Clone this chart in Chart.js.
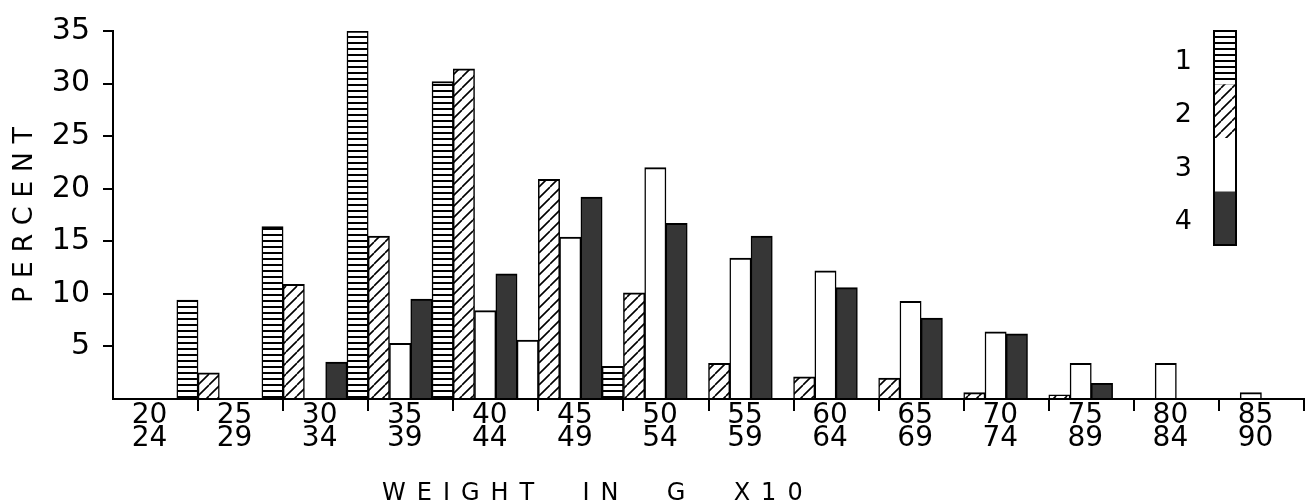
<!DOCTYPE html>
<html>
<head>
<meta charset="utf-8">
<title>Weight classes</title>
<script src="https://cdn.jsdelivr.net/npm/chart.js@4.4.1/dist/chart.umd.min.js"></script>
<style>
  html, body { margin: 0; padding: 0; background: #fff; }
  #wrap { width: 1316px; height: 504px; position: relative; }
</style>
</head>
<body>
<div id="wrap"><canvas id="weightChart"></canvas></div>
<script>
// weight classes (g x10): lower / upper bound, printed on two lines
const binLow  = ['20', '25', '30', '35', '40', '45', '50', '55', '60', '65', '70', '75', '80', '85'];
const binHigh = ['24', '29', '34', '39', '44', '49', '54', '59', '64', '69', '74', '89', '84', '90'];

// percent in each class
const series1 = [0, 9.4, 16.4, 35, 30.2, 5.6, 3.1, 0, 0, 0, 0, 0, 0, 0];
const series2 = [0, 2.5, 10.9, 15.5, 31.4, 20.9, 10.1, 3.4, 2.1, 2.0, 0.6, 0.4, 0, 0];
const series3 = [0, 0, 0, 5.3, 8.4, 15.4, 22.0, 13.4, 12.2, 9.3, 6.4, 3.4, 3.4, 0.6];
const series4 = [0, 0, 3.5, 9.5, 11.9, 19.2, 16.7, 15.5, 10.6, 7.7, 6.2, 1.5, 0, 0];
const seriesNames = ['1', '2', '3', '4'];

// in the original the series-1 bar of 45-49 is left unshaded
const unshaded1 = [5];

const yMax = 35;
const yStep = 5;
const xTitle = 'WEIGHT  IN  G  X10';
const yTitle = 'P E R C E N T';

Chart.defaults.font.family = '"DejaVu Sans", sans-serif';
Chart.defaults.color = '#000';

function makePattern(kind) {
  const c = document.createElement('canvas');
  const g = c.getContext('2d');
  if (kind === 'stripes') {
    c.width = 8; c.height = 6;
    g.fillStyle = '#fff'; g.fillRect(0, 0, 8, 6);
    g.fillStyle = '#000'; g.fillRect(0, 0, 8, 2);
  } else {
    const s = 11;
    c.width = s; c.height = s;
    g.fillStyle = '#fff'; g.fillRect(0, 0, s, s);
    g.strokeStyle = '#000'; g.lineWidth = 1.6;
    g.beginPath();
    for (let k = -s; k <= s; k += s) {
      g.moveTo(k, s); g.lineTo(k + s, 0);
    }
    g.stroke();
  }
  return g.createPattern(c, 'repeat');
}

const fills = [makePattern('stripes'), makePattern('hatch'), '#ffffff', '#363636'];
const seriesValues = [series1, series2, series3, series4];

// each group of 4 bars starts one bar-width left of its class tick, like the drawing
const datasets = seriesValues.map((vals, s) => ({
  label: seriesNames[s],
  data: vals.map((v, i) => ({ x: i + 0.25, y: v })),
  backgroundColor: vals.map((v, i) => (s === 0 && unshaded1.includes(i)) ? '#ffffff' : fills[s]),
  borderColor: '#000',
  borderWidth: { top: 2, left: 1.5, right: 1.5, bottom: 0 },
  xAxisID: 'xb',
  yAxisID: 'y'
}));

// stacked key at the upper right + x axis title with wide lettering
const keyAndTitle = {
  id: 'keyAndTitle',
  afterDraw(chart) {
    const { ctx, chartArea } = chart;
    const w = 22, h = 53.5;
    const x0 = chartArea.right - 90;
    const top = chartArea.top;
    ctx.save();
    ctx.font = '27px "DejaVu Sans"';
    ctx.textAlign = 'right';
    ctx.textBaseline = 'middle';
    chart.data.datasets.forEach((ds, i) => {
      const y = top + i * h;
      ctx.fillStyle = fills[i];
      ctx.fillRect(x0, y, w, h);
      ctx.fillStyle = '#000';
      ctx.fillText(ds.label, x0 - 22, y + h / 2 + 4);
    });
    ctx.lineWidth = 2;
    ctx.strokeStyle = '#000';
    ctx.strokeRect(x0, top, w, h * seriesNames.length);

    ctx.font = '24px "DejaVu Sans"';
    ctx.letterSpacing = '11px';
    ctx.textAlign = 'left';
    ctx.textBaseline = 'alphabetic';
    ctx.fillText(xTitle, 382, 500);
    ctx.restore();
  }
};

new Chart(document.getElementById('weightChart'), {
  type: 'bar',
  data: {
    labels: binLow.map((lo, i) => [lo, binHigh[i]]),
    datasets: datasets
  },
  options: {
    responsive: true,
    maintainAspectRatio: false,
    animation: false,
    devicePixelRatio: 1,
    layout: { padding: { top: 24, right: 12, left: 0, bottom: 0 } },
    datasets: { bar: { categoryPercentage: 1, barPercentage: 1 } },
    plugins: {
      legend: { display: false },
      tooltip: { enabled: false }
    },
    scales: {
      x: {
        type: 'category',
        position: 'bottom',
        offset: true,
        grid: {
          offset: true,
          drawOnChartArea: false,
          drawTicks: true,
          tickLength: 12,
          lineWidth: 2,
          color: (c) => c.index === 0 ? 'rgba(0,0,0,0)' : '#000'
        },
        border: { display: true, color: '#000', width: 2 },
        ticks: {
          color: '#000',
          font: { size: 28, lineHeight: 0.8 },
          padding: -6,
          labelOffset: -6,
          maxRotation: 0,
          autoSkip: false
        },
        afterFit: (s) => { s.height = 105; }
      },
      xb: {
        type: 'linear',
        position: 'bottom',
        display: false,
        offset: false,
        min: 0,
        max: binLow.length,
        ticks: { stepSize: 1 }
      },
      y: {
        type: 'linear',
        min: 0,
        max: yMax,
        grid: {
          drawOnChartArea: false,
          drawTicks: true,
          tickLength: 10,
          lineWidth: 2,
          color: (c) => (c.tick && c.tick.value === 0) ? 'rgba(0,0,0,0)' : '#000'
        },
        border: { display: true, color: '#000', width: 2 },
        ticks: {
          stepSize: yStep,
          color: '#000',
          font: { size: 30 },
          padding: 13,
          callback: (v) => v === 0 ? '' : v
        },
        title: {
          display: true,
          text: yTitle,
          color: '#000',
          font: { size: 27 },
          padding: { top: 9, bottom: 0 }
        },
        afterFit: (s) => { s.width = 113; }
      }
    }
  },
  plugins: [keyAndTitle]
});
</script>
</body>
</html>
